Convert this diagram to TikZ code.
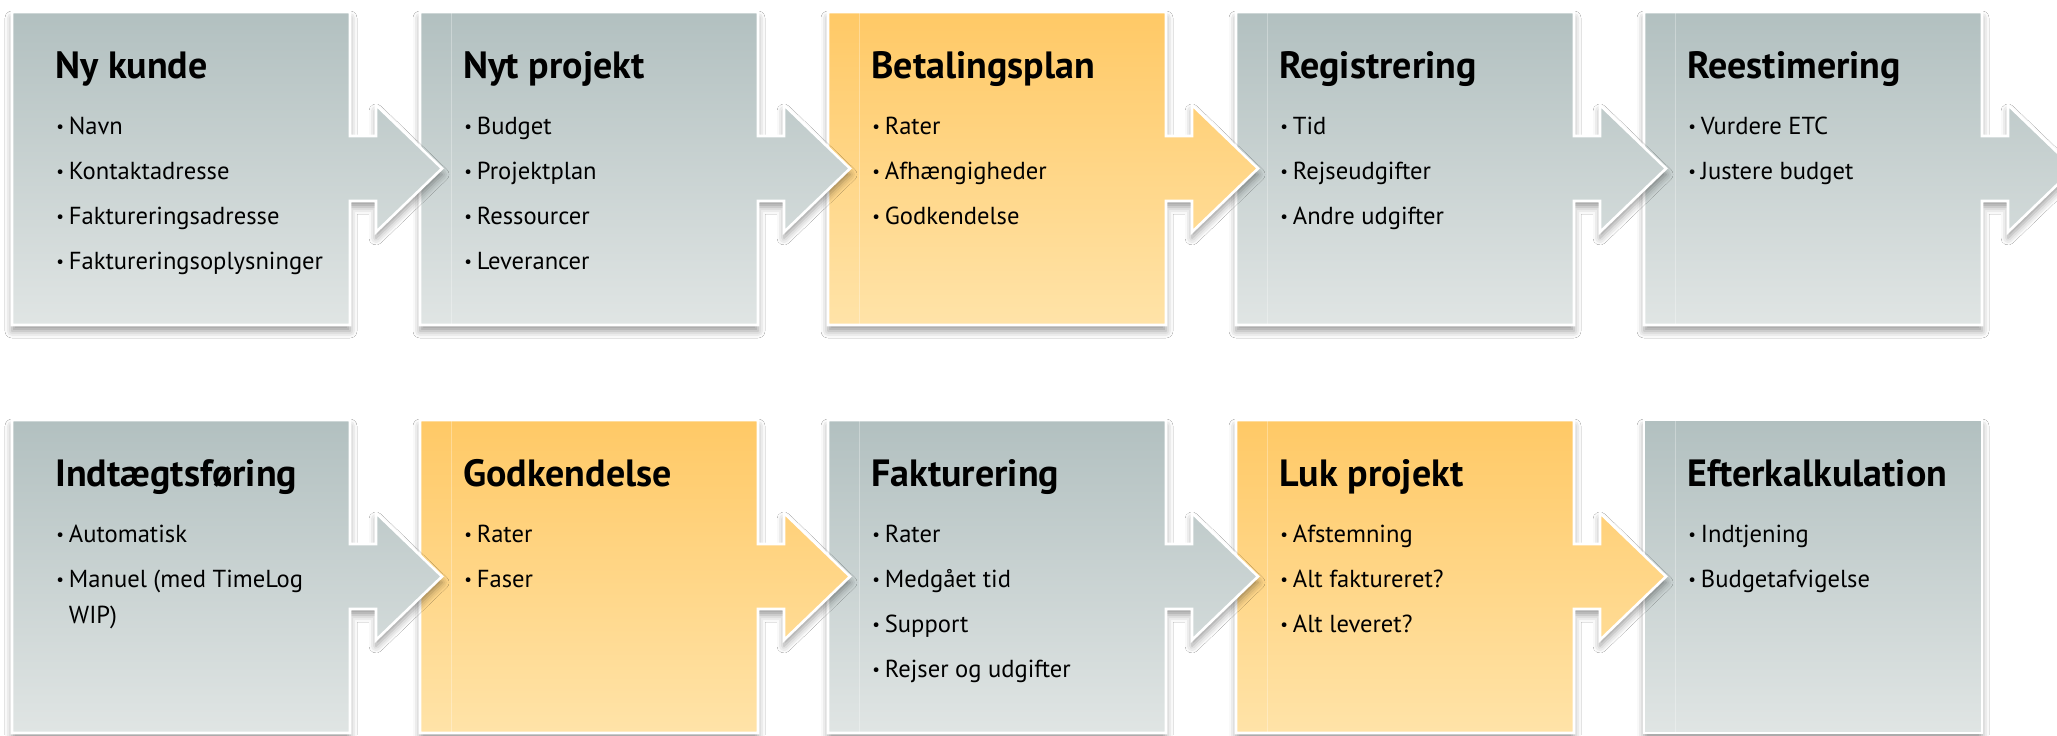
\documentclass[tikz,border=0pt]{standalone}
\usepackage{fontspec}
\setmainfont{PT Sans}
\usetikzlibrary{shadows.blur}
\definecolor{gtop}{HTML}{B2C0C0}
\definecolor{gbot}{HTML}{E0E5E4}
\definecolor{otop}{HTML}{FFC966}
\definecolor{obot}{HTML}{FFE3A8}
\newcommand\bul{\raisebox{0.9pt}{\fontsize{8.5}{8.5}\selectfont•}\hspace{2.4pt}}
\tikzset{
 graybox/.style={top color=gtop,bottom color=gbot},
 orangebox/.style={top color=otop,bottom color=obot},
 procshape/.style={draw=white,line width=1.3pt,line join=miter,
   blur shadow={shadow xshift=0pt,shadow yshift=-3pt,shadow blur radius=3.5pt,shadow opacity=40}},
 ttl/.style={anchor=base west,inner sep=0pt,font=\bfseries\fontsize{19}{22}\selectfont},
 itm/.style={anchor=base west,inner sep=0pt,font=\fontsize{12.3}{14}\selectfont},
 faint/.style={draw=white,opacity=0.3,line width=0.4pt},
}
% #1 name, #2 L, #3 T, #4 style, #5 arrow (1/0), #6 title, #7 items
\newcommand\pbox[7]{%
 \ifnum#5=1
  \path[procshape,#4] (#2,#3) -- ({#2+338},#3) -- ({#2+338},{#3+124}) -- ({#2+364},{#3+124})
    -- ({#2+364},{#3+93}) -- ({#2+430},{#3+156.5}) -- ({#2+364},{#3+220}) -- ({#2+364},{#3+189})
    -- ({#2+338},{#3+189}) -- ({#2+338},{#3+313}) -- (#2,{#3+313}) -- cycle;
 \else
  \path[procshape,#4] (#2,#3) rectangle ({#2+338},{#3+313});
 \fi
 \node[ttl] (#1) at ({#2+43},{#3+66}) {#6};
 \foreach \t [count=\i] in {#7} \node[itm] (#1-\i) at ({#2+44},{#3+122+45*(\i-1)}) {\bul\t};
}
\begin{document}
\begin{tikzpicture}[x=0.5pt,y=-0.5pt]
\useasboundingbox (0,0) rectangle (2057,735);
\fill[white] (0,0) rectangle (2057,735);
% top row, right to left
\pbox{reest}{1644}{12}{graybox}{1}{Reestimering}{Vurdere ETC,Justere budget}
\draw[faint] (1675,13) -- (1675,324);
\pbox{regi}{1236}{12}{graybox}{1}{Registrering}{Tid,Rejseudgifter,Andre udgifter}
\draw[faint] (1267,13) -- (1267,324);
\pbox{betal}{828}{12}{orangebox}{1}{Betalingsplan}{Rater,Afhængigheder,Godkendelse}
\draw[faint] (859,13) -- (859,324);
\pbox{nytp}{420}{12}{graybox}{1}{Nyt projekt}{Budget,Projektplan,Ressourcer,Leverancer}
\draw[faint] (451,13) -- (451,324);
\pbox{nyk}{12}{12}{graybox}{1}{Ny kunde}{Navn,Kontaktadresse,Faktureringsadresse,Faktureringsoplysninger}
% bottom row, right to left
\pbox{efter}{1644}{420}{graybox}{0}{Efterkalkulation}{Indtjening,Budgetafvigelse}
\draw[faint] (1675,421) -- (1675,733);
\pbox{luk}{1236}{420}{orangebox}{1}{Luk projekt}{Afstemning,Alt faktureret?,Alt leveret?}
\draw[faint] (1267,421) -- (1267,733);
\pbox{fakt}{828}{420}{graybox}{1}{Fakturering}{Rater,Medgået tid,Support,Rejser og udgifter}
\draw[faint] (859,421) -- (859,733);
\pbox{godk}{420}{420}{orangebox}{1}{Godkendelse}{Rater,Faser}
\draw[faint] (451,421) -- (451,733);
\pbox{indt}{12}{420}{graybox}{1}{Indtægtsføring}{Automatisk,Manuel (med TimeLog}
\node[itm] (indt-3) at (56,623) {\phantom{\bul}WIP)};
\end{tikzpicture}
\end{document}
